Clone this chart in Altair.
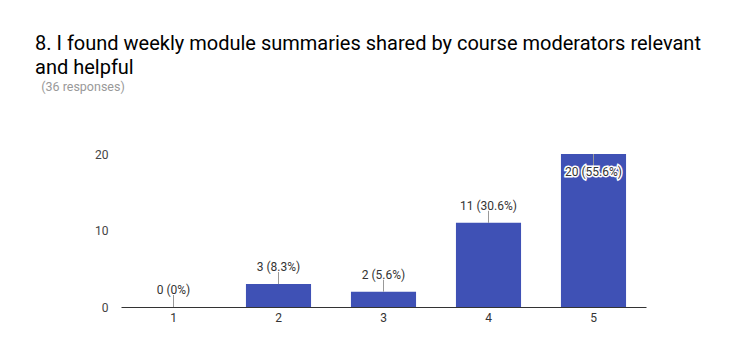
import altair as alt
import pandas as pd

categories = ["1", "2", "3", "4", "5"]
counts = [0, 3, 2, 11, 20]
labels = ["0 (0%)", "3 (8.3%)", "2 (5.6%)", "11 (30.6%)", "20 (55.6%)"]
title_lines = ["8. I found weekly module summaries shared by course moderators relevant", "and helpful"]
subtitle = "\u200b\u00a0\u00a0(36 responses)"

top = max(counts)
df = pd.DataFrame({
    "cat": categories,
    "count": counts,
    "label": labels,
    "pos": ["inside" if c == top else "above" for c in counts],
})

x = alt.X("cat:N", sort=categories,
          scale=alt.Scale(paddingInner=0.38, paddingOuter=0.19),
          axis=alt.Axis(title=None, labelAngle=0, ticks=False, domainColor="#333",
                        domainWidth=1, labelPadding=5, labelFontSize=12,
                        labelColor="#333", labelFont="Roboto"))
y = alt.Y("count:Q", scale=alt.Scale(domain=[0, 20], nice=False),
          axis=alt.Axis(title=None, values=[0, 10, 20], grid=False, domain=False,
                        ticks=False, labelPadding=13, labelFontSize=12,
                        labelColor="#444", labelFont="Roboto"))

base = alt.Chart(df).encode(x=x)

bars = base.mark_bar(color="#3f51b5").encode(y=y)

above = base.transform_filter("datum.pos == 'above'")
inside = base.transform_filter("datum.pos == 'inside'")

rule_above = above.mark_rule(color="#999", strokeWidth=1, y2Offset=-12).encode(
    y="count:Q", y2="count:Q")
text_above = above.mark_text(dy=-13, baseline="alphabetic", fontSize=12,
                             font="Roboto", color="#333").encode(y="count:Q", text="label:N")

rule_inside = inside.mark_rule(color="#999", strokeWidth=1, y2Offset=13).encode(
    y="count:Q", y2="count:Q")
halo_inside = inside.mark_text(dy=22, baseline="alphabetic", fontSize=12, font="Roboto",
                               color="white", stroke="white", strokeWidth=3).encode(
    y="count:Q", text="label:N")
text_inside = inside.mark_text(dy=22, baseline="alphabetic", fontSize=12, font="Roboto",
                               color="#333").encode(y="count:Q", text="label:N")

chart = alt.layer(bars, rule_above, text_above, rule_inside, halo_inside, text_inside).properties(
    width=525, height=153,
    title=alt.Title(text=title_lines, subtitle=subtitle, anchor="start", frame="group",
                    dx=-86, offset=55, font="Roboto", fontSize=20, fontWeight="normal",
                    color="#000", lineHeight=24, subtitleFont="Roboto",
                    subtitleFontSize=12.5, subtitleColor="#999", subtitlePadding=3),
    autosize=alt.AutoSizeParams(type="none"),
    padding={"left": 113, "top": 146, "right": 100, "bottom": 47},
).configure_view(stroke=None)

chart.save("out.html", embed_options={"renderer": "svg", "actions": False})
